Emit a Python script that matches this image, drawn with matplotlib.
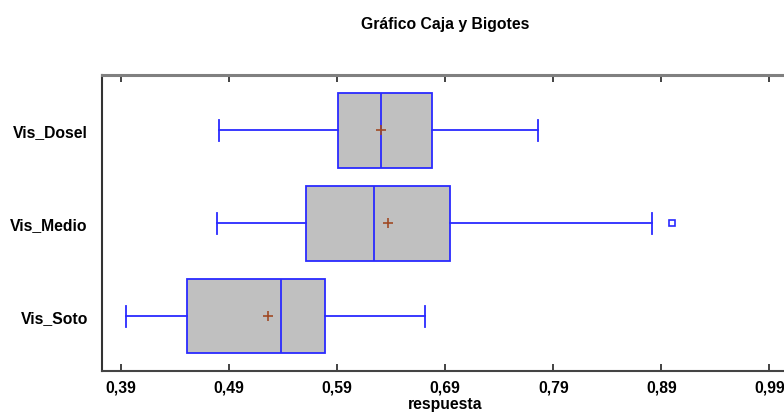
import matplotlib
matplotlib.use("Agg")
import matplotlib.pyplot as plt

# Summary statistics per group (horizontal box-and-whisker plot)
groups = ["Vis_Soto", "Vis_Medio", "Vis_Dosel"]
whisker_low = [0.3944, 0.4783, 0.4807]
q1 = [0.4505, 0.5607, 0.5909]
median = [0.5379, 0.6243, 0.6305]
q3 = [0.5783, 0.6946, 0.6774]
whisker_high = [0.6709, 0.8811, 0.7756]
means = [0.5261, 0.6367, 0.6309]
outliers = [[], [0.8996], []]

xticks = [0.39, 0.49, 0.59, 0.69, 0.79, 0.89, 0.99]
xtick_labels = ["0,39", "0,49", "0,59", "0,69", "0,79", "0,89", "0,99"]

plt.rcParams["font.family"] = ["Liberation Sans", "DejaVu Sans"]

fig = plt.figure(figsize=(7.84, 4.14), dpi=100)
ax = fig.add_axes([0.1297, 0.1022, 0.8754, 0.715])

stats = []
for i, g in enumerate(groups):
    stats.append(dict(label=g, whislo=whisker_low[i], q1=q1[i], med=median[i],
                      q3=q3[i], whishi=whisker_high[i], mean=means[i],
                      fliers=outliers[i]))

blue = "#2a2aff"
ax.bxp(stats, positions=[1, 2, 3], vert=False, widths=0.8, patch_artist=True,
       showmeans=True, capwidths=0.22,
       boxprops=dict(facecolor="#c0c0c0", edgecolor=blue, linewidth=1.3),
       medianprops=dict(color=blue, linewidth=1.3),
       whiskerprops=dict(color=blue, linewidth=1.3),
       capprops=dict(color=blue, linewidth=1.3),
       meanprops=dict(marker="+", markeredgecolor="#a04a25", markersize=6.5,
                      markeredgewidth=1.2),
       flierprops=dict(marker="s", markerfacecolor="white", markeredgecolor=blue,
                       markersize=5, markeredgewidth=1.2))

ax.set_xlim(0.37185, 1.0073)
ax.set_ylim(0.415, 3.6)

ax.set_xticks(xticks)
ax.set_xticklabels(xtick_labels)
ax.tick_params(axis="x", direction="in", length=5, width=1.2, color="#222222",
               top=True, labelsize=11.3, pad=6)
ax.tick_params(axis="y", length=0, labelsize=11.3, pad=10)
for lab in ax.get_xticklabels() + ax.get_yticklabels():
    lab.set_fontweight("bold")

ax.spines["right"].set_visible(False)
ax.spines["top"].set_color("#808080")
ax.spines["top"].set_linewidth(2.2)
ax.spines["left"].set_color("#333333")
ax.spines["left"].set_linewidth(1.5)
ax.spines["bottom"].set_color("#444444")
ax.spines["bottom"].set_linewidth(1.5)

ax.set_xlabel("respuesta", fontsize=11.3, fontweight="bold")
ax.xaxis.set_label_coords((445 - 101.7) / (0.8754 * 784), -0.087)

fig.text(445 / 784, 1 - 24 / 414, "Gráfico Caja y Bigotes", ha="center",
         va="center", fontsize=11.3, fontweight="bold")

fig.savefig("out.png", dpi=100)
